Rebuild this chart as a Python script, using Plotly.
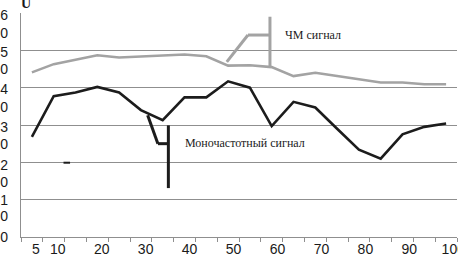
import plotly.graph_objects as go

# categories (20 points), labels shown on x axis
categories = list(range(1, 21))
x_label_pos = [1, 2, 4, 6, 8, 10, 12, 14, 16, 18, 20]
x_label_text = ["5", "10", "20", "30", "40", "50", "60", "70", "80", "90", "100"]

fm_signal = [4.41, 4.63, 4.75, 4.87, 4.81, 4.84, 4.86, 4.89, 4.84, 4.59,
             4.60, 4.55, 4.31, 4.40, 4.31, 4.22, 4.14, 4.14, 4.09, 4.09]
mono_signal = [2.68, 3.77, 3.87, 4.02, 3.87, 3.40, 3.13, 3.74, 3.74, 4.17,
               4.00, 2.97, 3.62, 3.47, 2.90, 2.34, 2.10, 2.75, 2.95, 3.04]

y_tick_vals = [0, 0.55, 0.98, 1.47, 1.92, 2.49, 2.95, 3.48, 3.97, 4.5, 4.96, 5.45, 5.94]
y_tick_text = ["0", "0", "1", "0", "2", "0", "3", "0", "4", "0", "5", "0", "6"]

GRAY = "#a3a3a3"
BLACK = "#1c1c1c"
GRID = "#8f8f8f"

fig = go.Figure()
fig.add_trace(go.Scatter(x=categories, y=fm_signal, mode="lines",
                         line=dict(color=GRAY, width=2.6), showlegend=False))
fig.add_trace(go.Scatter(x=categories, y=mono_signal, mode="lines",
                         line=dict(color=BLACK, width=2.6), showlegend=False))
# invisible trace to activate overlay axes for labels
fig.add_trace(go.Scatter(x=[1], y=[0], xaxis="x2", yaxis="y2", mode="markers",
                         marker=dict(opacity=0), showlegend=False, hoverinfo="skip"))

fig.update_layout(
    width=458, height=262,
    margin=dict(l=21, r=1, t=13, b=25),
    paper_bgcolor="white", plot_bgcolor="white",
    xaxis=dict(range=[0.5, 20.5], tickvals=[i + 0.5 for i in range(0, 21)],
               ticktext=[""] * 21, ticks="outside", ticklen=4, tickcolor=GRID,
               showgrid=False, zeroline=False, showline=True, linecolor=GRID,
               linewidth=1, automargin=False),
    xaxis2=dict(range=[0.5, 20.5], overlaying="x", side="bottom",
                tickvals=[p + 0.17 + 0.008 * p for p in x_label_pos],
                ticktext=x_label_text,
                ticks="", showgrid=False, zeroline=False, showline=False,
                ticklabelstandoff=2, automargin=False, ticklabeloverflow="allow",
                tickfont=dict(family="Liberation Sans", size=14, color="#1a1a1a")),
    yaxis=dict(range=[0, 6], tickvals=[0, 1, 2, 3, 4, 5, 6], ticktext=[""] * 7,
               showgrid=True, gridcolor=GRID, gridwidth=1, zeroline=False,
               showline=True, linecolor=GRID, linewidth=1, ticks="",
               automargin=False),
    yaxis2=dict(range=[0, 6], overlaying="y", side="left",
                tickvals=y_tick_vals, ticktext=y_tick_text, ticks="",
                showgrid=False, zeroline=False, showline=False,
                ticklabelstandoff=12, automargin=False, ticklabeloverflow="allow",
                tickfont=dict(family="Liberation Sans", size=14, color="#1a1a1a")),
)

# callout for FM signal
fig.add_shape(type="line", xref="x", yref="y", x0=11.92, x1=11.92, y0=4.56, y1=5.9,
              line=dict(color=GRAY, width=3))
fig.add_shape(type="line", xref="x", yref="y", x0=10.91, x1=11.92, y0=5.41, y1=5.41,
              line=dict(color=GRAY, width=3))
fig.add_shape(type="line", xref="x", yref="y", x0=9.94, x1=10.91, y0=4.69, y1=5.41,
              line=dict(color=GRAY, width=3))
fig.add_annotation(x=12.5, y=5.41, xref="x", yref="y", text="ЧМ сигнал",
                   showarrow=False, xanchor="left", yanchor="middle",
                   font=dict(family="Liberation Serif", size=12, color="#1a1a1a"))

# callout for mono-frequency signal
fig.add_shape(type="line", xref="x", yref="y", x0=7.26, x1=7.26, y0=1.31, y1=2.99,
              line=dict(color=BLACK, width=3))
fig.add_shape(type="line", xref="x", yref="y", x0=6.78, x1=7.26, y0=2.50, y1=2.50,
              line=dict(color=BLACK, width=3))
fig.add_shape(type="line", xref="x", yref="y", x0=6.31, x1=6.78, y0=3.26, y1=2.50,
              line=dict(color=BLACK, width=3))
fig.add_annotation(x=7.94, y=2.51, xref="x", yref="y", text="Моночастотный сигнал",
                   showarrow=False, xanchor="left", yanchor="middle",
                   font=dict(family="Liberation Serif", size=12, color="#1a1a1a"))

# small dash mark
fig.add_shape(type="line", xref="x", yref="y", x0=2.45, x1=2.75, y0=1.99, y1=1.99,
              line=dict(color=BLACK, width=2))

# axis title "U"
fig.add_annotation(x=0.0115, y=1, xref="paper", yref="paper", text="<b>U</b>",
                   showarrow=False, xanchor="center", yanchor="bottom",
                   font=dict(family="Liberation Serif", size=14, color="#1a1a1a"))

fig.write_html("out.html", config={"displayModeBar": False},
               post_script="document.body.style.margin='0';document.body.style.padding='0';")
